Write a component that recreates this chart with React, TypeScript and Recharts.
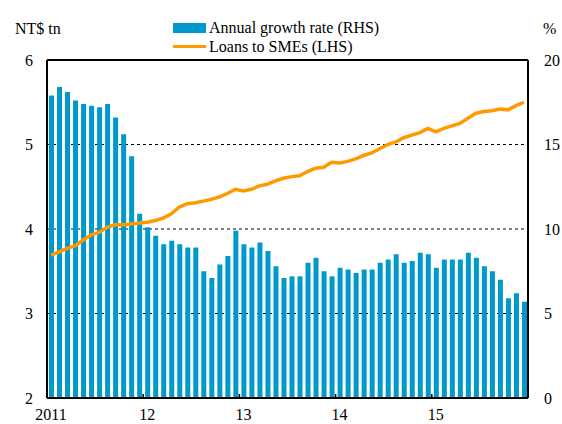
import React from 'react'
import {
  ComposedChart,
  Bar,
  Line,
  XAxis,
  YAxis,
  CartesianGrid,
  ReferenceLine,
} from 'recharts'

const months = [
  '2011-01', '2011-02', '2011-03', '2011-04', '2011-05', '2011-06', '2011-07', '2011-08', '2011-09', '2011-10', '2011-11', '2011-12',
  '2012-01', '2012-02', '2012-03', '2012-04', '2012-05', '2012-06', '2012-07', '2012-08', '2012-09', '2012-10', '2012-11', '2012-12',
  '2013-01', '2013-02', '2013-03', '2013-04', '2013-05', '2013-06', '2013-07', '2013-08', '2013-09', '2013-10', '2013-11', '2013-12',
  '2014-01', '2014-02', '2014-03', '2014-04', '2014-05', '2014-06', '2014-07', '2014-08', '2014-09', '2014-10', '2014-11', '2014-12',
  '2015-01', '2015-02', '2015-03', '2015-04', '2015-05', '2015-06', '2015-07', '2015-08', '2015-09', '2015-10', '2015-11', '2015-12',
]

// Annual growth rate, % (RHS)
const growthRate = [
  17.9, 18.4, 18.1, 17.6, 17.4, 17.3, 17.2, 17.4, 16.6, 15.6, 14.3, 10.9,
  10.1, 9.6, 9.1, 9.3, 9.1, 8.9, 8.9, 7.5, 7.1, 7.9, 8.4, 9.9,
  9.1, 8.9, 9.2, 8.7, 7.8, 7.1, 7.2, 7.2, 8.0, 8.3, 7.5, 7.2,
  7.7, 7.6, 7.4, 7.6, 7.6, 8.0, 8.2, 8.5, 8.0, 8.1, 8.6, 8.5,
  7.7, 8.2, 8.2, 8.2, 8.6, 8.3, 7.8, 7.5, 7.0, 5.9, 6.2, 5.7,
]

// Loans to SMEs, NT$ tn (LHS)
const loans = [
  3.69, 3.73, 3.77, 3.8, 3.87, 3.93, 3.96, 4.02, 4.05, 4.05, 4.06, 4.07,
  4.08, 4.1, 4.13, 4.18, 4.26, 4.3, 4.31, 4.33, 4.35, 4.38, 4.42, 4.47,
  4.45, 4.47, 4.51, 4.53, 4.57, 4.6, 4.62, 4.63, 4.68, 4.72, 4.73, 4.79,
  4.78, 4.8, 4.83, 4.87, 4.9, 4.95, 5.0, 5.03, 5.08, 5.11, 5.14, 5.19,
  5.15, 5.19, 5.22, 5.25, 5.31, 5.37, 5.39, 5.4, 5.42, 5.41, 5.46, 5.5,
]

const leftTicks = [2, 3, 4, 5, 6]
const rightTicks = [0, 5, 10, 15, 20]

const data = months.map((m, i) => ({ month: m, growth: growthRate[i], loans: loans[i] }))

const FONT = '"Liberation Serif", "Times New Roman", serif'
const BLUE = '#0099CC'
const ORANGE = '#FF9900'

const yearLabel = (m: string) => {
  const y = m.slice(0, 4)
  return y === '2011' ? y : y.slice(2)
}

const YearTick = (props: any) => {
  const { x, y, payload } = props
  const half = payload?.offset ?? 4
  return (
    <g>
      <line x1={x - half} x2={x - half} y1={y - 11} y2={y - 15} stroke="#000" strokeWidth={1.5} />
      <text x={x} y={y} dy="0.71em" textAnchor="middle" fill="#000" style={{ fontSize: 16, fontFamily: FONT }}>
        {yearLabel(payload.value)}
      </text>
    </g>
  )
}

const ValueTick = (props: any) => {
  const { x, y, payload, textAnchor } = props
  return (
    <text x={x} y={y} dy="0.355em" textAnchor={textAnchor} fill="#000" style={{ fontSize: 16, fontFamily: FONT }}>
      {payload.value}
    </text>
  )
}

export default function App() {
  return (
    <div style={{ position: 'absolute', left: 0, top: 0, width: 562, height: 424, background: '#fff', fontFamily: FONT }}>
      <div style={{ position: 'absolute', left: 15, top: 20, fontSize: 16 }}>NT$ tn</div>
      <div style={{ position: 'absolute', left: 543, top: 20, fontSize: 16 }}>%</div>
      <div style={{ position: 'absolute', left: 173, top: 18, fontSize: 16, lineHeight: '19px' }}>
        <div style={{ display: 'flex', alignItems: 'center' }}>
          <span style={{ display: 'inline-block', width: 33, height: 10, background: BLUE, marginRight: 3 }} />
          Annual growth rate (RHS)
        </div>
        <div style={{ display: 'flex', alignItems: 'center' }}>
          <span style={{ display: 'inline-block', width: 33, height: 3, background: ORANGE, marginRight: 3 }} />
          Loans to SMEs (LHS)
        </div>
      </div>
      <ComposedChart
        width={562}
        height={424}
        data={data}
        margin={{ top: 60, right: 0, bottom: 0, left: 0 }}
        style={{ position: 'absolute', left: 0, top: 0, fontFamily: FONT }}
      >
        <CartesianGrid
          yAxisId="left"
          vertical={false}
          stroke="#000"
          strokeDasharray="3 3"
        />
        <XAxis
          dataKey="month"
          height={26}
          interval={11}
          tickLine={false}
          tickSize={0}
          tickMargin={11}
          axisLine={{ stroke: '#000', strokeWidth: 2 }}
          tick={<YearTick />}
        />
        <YAxis
          yAxisId="left"
          width={47}
          domain={[2, 6]}
          ticks={leftTicks}
          tickLine={false}
          tickSize={0}
          tickMargin={14}
          axisLine={{ stroke: '#000', strokeWidth: 2 }}
          tick={<ValueTick />}
        />
        <YAxis
          yAxisId="right"
          orientation="right"
          width={34}
          domain={[0, 20]}
          ticks={rightTicks}
          tickLine={false}
          tickSize={0}
          tickMargin={16}
          axisLine={{ stroke: '#000', strokeWidth: 2 }}
          tick={<ValueTick />}
        />
        <ReferenceLine yAxisId="left" y={6} stroke="#000" strokeWidth={2} />
        <Bar
          yAxisId="right"
          dataKey="growth"
          fill={BLUE}
          barSize={5}
          isAnimationActive={false}
        />
        <Line
          yAxisId="left"
          type="linear"
          dataKey="loans"
          stroke={ORANGE}
          strokeWidth={3.5}
          dot={false}
          activeDot={false}
          isAnimationActive={false}
        />
      </ComposedChart>
    </div>
  )
}
